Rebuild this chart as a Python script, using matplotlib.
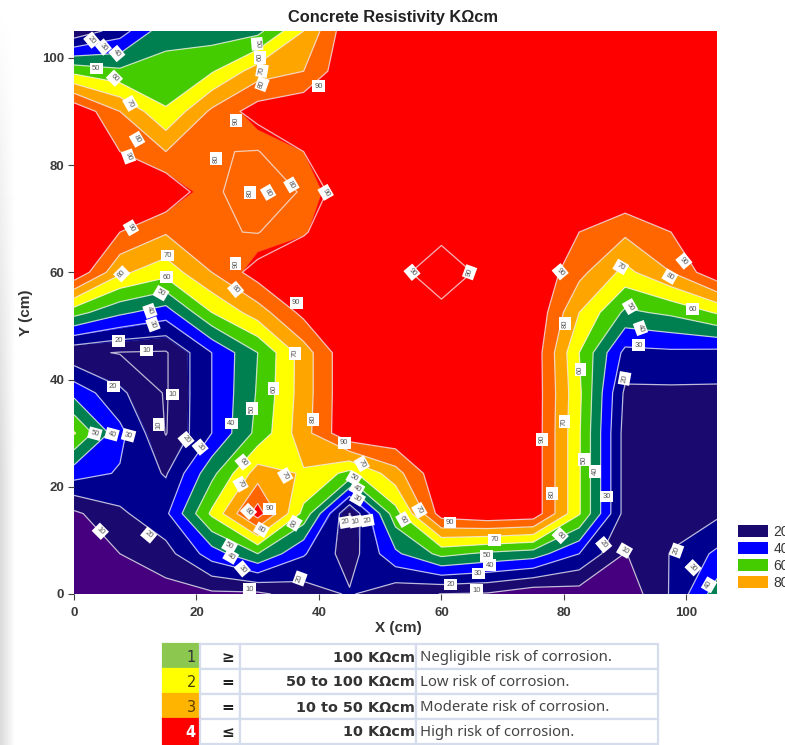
import numpy as np
import matplotlib
matplotlib.use("Agg")
import matplotlib.pyplot as plt
from matplotlib.patches import Patch, Rectangle

# ---- data ----
x_cm = [0, 7.5, 15, 22.5, 30, 37.5, 45, 52.5, 60, 67.5, 75, 82.5, 90, 97.5, 105]
y_cm = [105, 97.5, 90, 82.5, 75, 67.5, 60, 52.5, 45, 37.5, 30, 22.5, 15, 7.5, 0]
r105 = [12, 25, 47, 45, 47, 70, 98, 99, 99, 99, 99, 99, 99, 99, 99]
r097 = [57, 52, 53, 59, 75, 80, 99, 99, 99, 99, 99, 99, 99, 99, 99]
r090 = [99, 80, 61, 82, 95, 99, 99, 99, 99, 99, 99, 99, 99, 99, 99]
r082 = [99, 90, 80, 80.5, 84, 90, 99, 99, 99, 99, 99, 99, 99, 99, 99]
r075 = [99, 99, 99, 84, 84, 84, 99, 99, 99, 99, 99, 99, 99, 99, 99]
r067 = [99, 90, 81, 81, 85, 89, 99, 99, 98, 99, 99, 90, 82, 90, 99]
r060 = [99, 72, 64, 80, 95, 99, 99, 98, 104, 98, 99, 83, 67, 80, 98]
r052 = [54, 42, 35, 60, 75, 93, 99, 99, 98, 99, 99, 70, 48, 52, 61]
r045 = [12, 12, 11, 30, 50, 75, 99, 99, 99, 99, 97, 60, 27, 28, 27]
r037 = [37, 22, 10.5, 30, 51, 75, 99, 99, 99, 99, 97, 62, 18, 18, 18]
r030 = [61, 33, 11, 30, 53, 76, 99, 99, 99, 99, 97, 61, 16, 15, 15]
r022 = [34.5, 29, 19, 47, 75, 69, 57, 76, 99, 99, 97, 61, 16, 15, 15]
r015 = [8, 18, 28, 62, 95, 57, 12, 56, 95, 99, 97, 61, 16, 16, 18]
r007 = [6, 10, 16, 35, 50, 31, 15, 38, 53, 48, 45, 30, 9.5, 20.5, 32]
r000 = [5, 5, 6, 8, 8, 15, 21, 13, 9.8, 9, 3, 5, 3, 21, 45]

# contour lines of the original dip lower than its fill in a few pockets
pocket_x = [30, 22.5, 37.5, 30, 30, 15, 15, 15, 7.5, 45]
pocket_y = [75, 75, 75, 82.5, 67.5, 37.5, 30, 45, 45, 15]
pocket_v = [74, 82, 81, 79.5, 79.5, 9, 9.5, 9, 9.5, 9.5]

fill_levels = [0, 10, 20, 30, 40, 50, 60, 70, 80, 90, 120]
fill_colors = ['#46007f', '#1a0a70', '#00008f', '#0000ff', '#007f50',
               '#44cc00', '#ffff00', '#ffa500', '#ff6600', '#ff0000']
line_levels = [10, 20, 30, 40, 50, 60, 70, 80, 90, 100]

label_val = [20, 30, 40, 50, 60, 70, 80, 90, 50, 60, 70, 80, 90, 90, 80, 80, 80, 80, 90, 90,
             70, 80, 60, 50, 40, 90, 80, 90,
             30, 20, 10, 20, 10, 10, 70, 60, 50, 40, 80, 90, 50, 40, 30, 20, 30,
             60, 70, 70, 70, 50, 40, 30, 20, 10, 20, 80, 90, 80, 60, 10, 20, 50, 40, 30, 20, 10,
             90, 90, 90, 70, 90, 80, 50, 60, 40, 30, 20, 80, 60, 70, 90, 50, 40, 30, 80, 60, 90, 70,
             50, 40, 30, 20, 10, 70, 60, 20, 10, 20, 30, 40]
label_x = [2.9, 4.8, 7.0, 3.6, 6.6, 9.2, 10.3, 8.9, 29.9, 30.4, 30.7, 30.7, 40.0, 26.5, 23.2, 28.7, 31.7, 35.5, 41.1, 9.3,
           15.3, 7.8, 15.1, 14.2, 12.4, 26.4, 26.4, 36.3,
           12.9, 7.3, 11.8, 6.4, 16.1, 13.8, 36.1, 32.6, 29.1, 25.7, 39.0, 44.1, 3.4, 6.2, 8.9, 18.3, 20.6,
           27.6, 27.2, 34.5, 47.0, 45.7, 46.2, 46.3, 44.4, 46.0, 47.9, 28.5, 32.0, 30.6, 36.0, 4.3, 12.2, 25.4, 25.6, 27.5, 36.9, 28.7,
           55.2, 64.6, 79.4, 89.3, 99.6, 97.3, 90.8, 101.0, 92.5, 92.2, 89.9, 80.2, 82.7, 80.1, 76.4, 83.3, 85.1, 87.0, 78.1, 79.4, 61.4, 68.7,
           67.4, 67.9, 66.0, 61.5, 65.7, 56.4, 53.8, 86.5, 89.9, 98.4, 101.1, 103.7]
label_y = [103.3, 102.0, 100.8, 98.0, 96.2, 91.5, 84.8, 81.6, 102.6, 100.1, 97.6, 95.1, 94.7, 88.3, 81.2, 74.9, 74.9, 76.3, 74.9, 68.3,
           63.1, 59.7, 59.1, 56.1, 52.8, 61.6, 56.8, 54.3,
           50.3, 47.2, 45.4, 38.7, 37.2, 31.6, 44.9, 38.3, 34.6, 31.8, 32.6, 28.2, 29.9, 29.8, 29.6, 28.8, 27.4,
           24.6, 20.5, 22.1, 24.3, 21.6, 19.7, 17.8, 13.4, 13.5, 13.7, 15.4, 15.9, 12.0, 13.2, 11.7, 11.0, 8.9, 7.0, 4.7, 2.9, 0.9,
           60.0, 60.0, 60.1, 61.0, 62.1, 59.2, 53.6, 53.1, 49.6, 46.4, 40.2, 50.4, 41.9, 32.1, 28.9, 25.1, 22.9, 18.2, 18.7, 10.9, 13.3, 10.1,
           7.1, 5.4, 3.8, 1.8, 0.7, 15.6, 13.9, 9.2, 8.1, 8.1, 4.9, 1.7]
label_rot = [-50, -50, -50, 0, -45, -60, -60, -70, -85, 90, 80, 70, 0, 90, 90, 90, -60, -60, -60, -60,
             0, 45, 0, -30, -70, 90, -50, 0,
             -70, 0, 0, 0, 0, 90, 90, 90, 90, 0, 90, 0, -15, -15, -15, -50, -50,
             -50, -60, -60, -60, -30, -30, -30, 10, 10, 10, -45, 0, -30, 60, -45, -40, -30, -30, -50, 70, 0,
             -50, 70, -50, -30, -50, -30, -60, 0, -70, 0, 80, 90, 90, 90, 90, 90, 90, 0, 90, -45, 0, 0,
             0, 0, 0, 0, 0, -60, -60, -50, -30, 70, -45, 60]

legend_labels = ['20', '40', '60', '80']
legend_colors = ['#1a0a70', '#0000ff', '#44cc00', '#ffa500']

risk_id = ['1', '2', '3', '4']
risk_op = ['≥', '=', '=', '≤']
risk_range = ['100 KΩcm', '50 to 100 KΩcm', '10 to 50 KΩcm', '10 KΩcm']
risk_text = ['Negligible risk of corrosion.', 'Low risk of corrosion.',
             'Moderate risk of corrosion.', 'High risk of corrosion.']
risk_color = ['#8cc850', '#ffff00', '#ffb400', '#ff0000']
risk_idcolor = ['#333333', '#444400', '#5a4000', '#ffffff']

# ---- figure ----
W, H = 785, 745
fig = plt.figure(figsize=(W / 100, H / 100), dpi=100, facecolor='white')

# soft grey page shadow down the left edge of the screenshot
shade = fig.add_axes([0, 0, 16 / W, 1], zorder=-1)
fade_x = np.linspace(0.86, 1.0, 16)
fade_y = np.clip(np.linspace(1.0, -0.6, 200), 0, 1)[:, None]
shade.imshow(1 - (1 - fade_x[None, :]) * (1 - fade_y), cmap='gray', vmin=0, vmax=1, aspect='auto')
shade.axis('off')

ax = fig.add_axes([74 / W, (H - 594) / H, 643 / W, 563 / H])

z = np.array([r105, r097, r090, r082, r075, r067, r060, r052, r045, r037, r030, r022, r015, r007, r000], dtype=float)
z_line = z.copy()
for px_, py_, pv_ in zip(pocket_x, pocket_y, pocket_v):
    z_line[y_cm.index(py_), x_cm.index(px_)] = pv_

ax.contourf(x_cm, y_cm, z, levels=fill_levels, colors=fill_colors, antialiased=True)
for c in ax.collections:
    c.set_edgecolor('face')
    c.set_linewidth(0.2)
ax.contour(x_cm, y_cm, z_line, levels=line_levels, colors='#f0f0f5', linewidths=0.9, alpha=0.75)

for v, lx, ly, rot in zip(label_val, label_x, label_y, label_rot):
    ax.text(lx, ly, str(v), fontsize=5.5, color='#555555', family='Liberation Sans', rotation=rot,
            rotation_mode='anchor', ha='center', va='center', zorder=5, clip_on=True,
            bbox=dict(boxstyle='square,pad=0.3', fc='white', ec='none'))

ax.set_xlim(0, 105)
ax.set_ylim(0, 105)
ax.set_xticks(range(0, 101, 20))
ax.set_yticks(range(0, 101, 20))
for s in ax.spines.values():
    s.set_visible(False)
ax.tick_params(length=4, width=0.8, color='#444444', labelcolor='#3a3a3a', labelsize=9.5, pad=3)
ax.tick_params(axis='x', pad=5)
for t in ax.get_xticklabels() + ax.get_yticklabels():
    t.set_fontfamily('Liberation Sans')
    t.set_fontweight('bold')

fig.text(393 / W, 1 - 17.5 / H, 'Concrete Resistivity KΩcm', ha='center', va='center', fontsize=11.8,
         fontweight='bold', family='Liberation Sans', color='#222222')
fig.text(398 / W, 1 - 628 / H, 'X (cm)', ha='center', va='center', fontsize=11,
         fontweight='bold', family='Liberation Sans', color='#333333')
fig.text(26 / W, 1 - 313 / H, 'Y (cm)', ha='center', va='center', rotation=90, fontsize=11,
         fontweight='bold', family='Liberation Sans', color='#333333')

handles = [Patch(fc=c, ec='none', label=l) for c, l in zip(legend_colors, legend_labels)]
fig.legend(handles=handles, loc='lower left', bbox_to_anchor=(738 / W, (H - 590) / H), frameon=False,
           borderpad=0, borderaxespad=0, handlelength=2.15, handleheight=0.95,
           handletextpad=0.38, labelspacing=0.22, labelcolor='#333333',
           prop={'family': 'Liberation Sans', 'size': 10})

# ---- risk table ----
tab = fig.add_axes([163 / W, (H - 744) / H, 495 / W, 100 / H])
tab.set_xlim(163, 658)
tab.set_ylim(744, 644)
tab.axis('off')
col_edges = [163, 200, 240, 416, 658]
row_edges = [644, 669, 694, 719, 744]
border = '#d5dcec'
for i in range(4):
    y0, y1 = row_edges[i], row_edges[i + 1]
    ym = (y0 + y1) / 2 + 1
    for j in range(4):
        x0, x1 = col_edges[j], col_edges[j + 1]
        fc = risk_color[i] if j == 0 else 'white'
        tab.add_patch(Rectangle((x0, y0), x1 - x0, y1 - y0, fc=fc, ec=border if j else fc, lw=1.6, clip_on=False))
    tab.text(196, ym, risk_id[i], ha='right', va='center', fontsize=10.5, family='DejaVu Sans',
             color=risk_idcolor[i], fontweight='bold' if i == 3 else 'normal')
    tab.text(228, ym, risk_op[i], ha='center', va='center', fontsize=11, family='DejaVu Sans', color='#222222',
             fontweight='bold')
    tab.text(415, ym, risk_range[i], ha='right', va='center', fontsize=10.4, family='DejaVu Sans',
             fontweight='bold', color='#333333')
    tab.text(420, ym, risk_text[i], ha='left', va='center', fontsize=10.7, family='Noto Sans', color='#444444')

fig.savefig('out.png', dpi=100)
